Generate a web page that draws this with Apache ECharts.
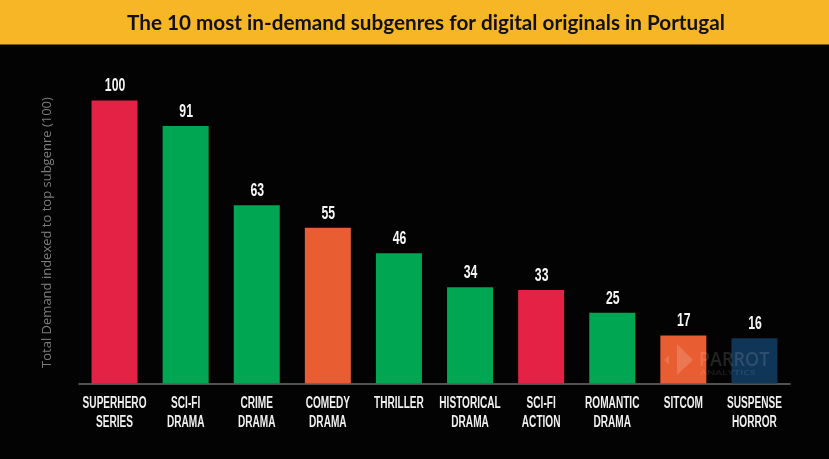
<!DOCTYPE html>
<html><head><meta charset="utf-8">
<style>html,body{margin:0;padding:0;background:#030303}#c{width:829px;height:459px}</style>
<script src="https://cdn.jsdelivr.net/npm/echarts@6/dist/echarts.min.js"></script>
</head><body><div id="c"></div>
<script>
const titleText = 'The 10 most in-demand subgenres for digital originals in Portugal';
const yAxisTitle = 'Total Demand indexed to top subgenre (100)';
const categories = ['SUPERHERO\nSERIES','SCI-FI\nDRAMA','CRIME\nDRAMA','COMEDY\nDRAMA','THRILLER','HISTORICAL\nDRAMA','SCI-FI\nACTION','ROMANTIC\nDRAMA','SITCOM','SUSPENSE\nHORROR'];
const values = [100,91,63,55,46,34,33,25,17,16];
const barColors = ['#e32245','#00a651','#00a651','#e85d31','#00a651','#00a651','#e32245','#00a651','#e85d31','#0f3557'];
const chart = echarts.init(document.getElementById('c'), null, {renderer:'canvas'});
const face = '"Liberation Sans",sans-serif';
chart.setOption({
  backgroundColor:'#030303',
  animation:false,
  title:{text:titleText,left:122,top:8,textStyle:{color:'#111',fontFamily:'Lato',fontWeight:700,fontSize:20.7}},
  grid:{left:79,right:39,top:100.5,bottom:75.5},
  xAxis:{type:'category',data:categories,
    axisLine:{lineStyle:{color:'#6e6e6e',width:1.5}},axisTick:{show:false},axisLabel:{show:false}},
  yAxis:{type:'value',min:0,max:100,name:yAxisTitle,nameLocation:'middle',nameGap:25,nameRotate:90,
    nameTextStyle:{color:'#7d7d7d',fontFamily:'Open Sans',fontSize:13,padding:[0,0,0,19]},
    axisLine:{show:false},axisTick:{show:false},axisLabel:{show:false},splitLine:{show:false}},
  series:[
   {type:'bar',barWidth:46,data:values.map((v,i)=>({value:v,itemStyle:{color:barColors[i]}}))},
   {type:'custom',clip:false,silent:true,z:5,
    data:values.map((v,i)=>[i,v]),
    renderItem:(p,api)=>{
      const top=api.coord([api.value(0),api.value(1)]);
      const base=api.coord([api.value(0),0]);
      return {type:'group',children:[
        {type:'text',x:top[0]+0.5,y:top[1]-14,scaleX:0.68,style:{text:String(api.value(1)),align:'center',verticalAlign:'middle',fill:'#f5f5f5',fontFamily:face,fontWeight:700,fontSize:18}},
        {type:'text',x:base[0],y:base[1]+10.5,scaleX:0.63,style:{text:categories[api.value(0)],align:'center',verticalAlign:'top',fill:'#f0f0f0',fontFamily:face,fontWeight:700,fontSize:16,lineHeight:19}}
      ]};
    }}
  ],
  graphic:[
    {type:'rect',z:-1,silent:true,shape:{x:0,y:0,width:829,height:44.5},style:{fill:'#f7b626'}},
    {type:'polygon',z:10,silent:true,shape:{points:[[677,344],[693,360],[677,375]]},style:{fill:'rgba(255,255,255,0.17)'}},
    {type:'polygon',z:10,silent:true,shape:{points:[[669,355],[664,360],[669,365]]},style:{fill:'rgba(255,255,255,0.13)'}},
    {type:'text',z:10,silent:true,x:699,y:350,scaleX:0.9,style:{text:'PARROT',fill:'rgba(255,255,255,0.13)',font:'600 20px "Open Sans"'}},
    {type:'text',z:10,silent:true,x:700,y:369,scaleX:1.5,style:{text:'ANALYTICS',fill:'rgba(255,255,255,0.1)',font:'600 7px "Open Sans"'}}
  ]
});
</script></body></html>
